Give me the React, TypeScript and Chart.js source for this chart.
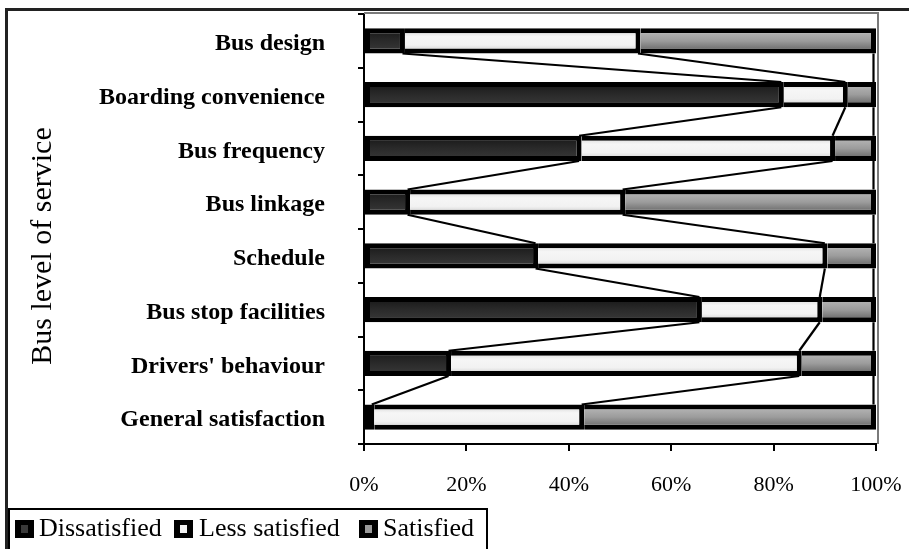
import React, { useEffect, useRef } from "react";
import { Chart, registerables } from "chart.js";

Chart.register(...registerables);

const categories = [
  "Bus design",
  "Boarding convenience",
  "Bus frequency",
  "Bus linkage",
  "Schedule",
  "Bus stop facilities",
  "Drivers' behaviour",
  "General satisfaction",
];
const dissatisfied = [8, 82, 42.5, 9, 34, 66, 17, 2];
const lessSatisfied = [46, 12.5, 49.5, 42, 56.5, 23.5, 68.5, 41];
const satisfied = [46, 5.5, 8, 49, 9.5, 10.5, 14.5, 57];
const seriesNames = ["Dissatisfied", "Less satisfied", "Satisfied"];
const yTitle = "Bus level of service";

const SERIF = '"Liberation Serif", "Times New Roman", serif';
const BAR_PCT = 0.47;

const darkStops = ["#161616", "#2a2a2a", "#3a3a3a"];
const lightStops = ["#cfcfcf", "#f6f6f6", "#f2f2f2", "#c6c6c6"];
const greyStops = ["#bdbdbd", "#9c9c9c", "#5a5a5a"];

function gradientFill(stops: string[]) {
  return (ctx: any) => {
    const chart = ctx.chart;
    const y = chart.scales && chart.scales.y;
    if (!y || !chart.chartArea || ctx.dataIndex === undefined) return stops[1];
    const c = y.getPixelForValue(ctx.dataIndex);
    const h = ((y.height / categories.length) * BAR_PCT) / 2;
    const g = chart.ctx.createLinearGradient(0, c - h, 0, c + h);
    stops.forEach((s, i) => g.addColorStop(i / (stops.length - 1), s));
    return g;
  };
}

const framePlugin = {
  id: "frame",
  beforeDraw(chart: any) {
    const ctx = chart.ctx;
    ctx.save();
    ctx.fillStyle = "#ffffff";
    ctx.fillRect(0, 0, chart.width, chart.height);
    ctx.fillStyle = "#222222";
    ctx.fillRect(5, 8, chart.width - 5, 3);
    ctx.fillRect(5, 8, 3, chart.height - 8);
    ctx.restore();
  },
  afterDraw(chart: any) {
    const ctx = chart.ctx;
    const a = chart.chartArea;
    ctx.save();
    ctx.strokeStyle = "#7a7a7a";
    ctx.lineWidth = 2;
    ctx.beginPath();
    ctx.moveTo(a.left, a.top - 1);
    ctx.lineTo(a.right + 2, a.top - 1);
    ctx.lineTo(a.right + 2, a.bottom);
    ctx.stroke();
    // rotated axis title
    ctx.fillStyle = "#000";
    ctx.font = `30px ${SERIF}`;
    ctx.textAlign = "center";
    ctx.textBaseline = "middle";
    ctx.translate(43, 246);
    ctx.rotate(-Math.PI / 2);
    ctx.fillText(yTitle, 0, 0);
    ctx.restore();
  },
};

const seriesLinesPlugin = {
  id: "seriesLines",
  afterDatasetsDraw(chart: any) {
    const ctx = chart.ctx;
    ctx.save();
    ctx.strokeStyle = "#000";
    ctx.lineWidth = 2.2;
    for (let d = 0; d < chart.data.datasets.length; d++) {
      const meta = chart.getDatasetMeta(d);
      for (let i = 0; i < meta.data.length - 1; i++) {
        const a = meta.data[i] as any;
        const b = meta.data[i + 1] as any;
        ctx.beginPath();
        ctx.moveTo(a.x - 2.5, a.y + a.height / 2);
        ctx.lineTo(b.x - 2.5, b.y - b.height / 2);
        ctx.stroke();
      }
    }
    ctx.restore();
  },
};

function LegendMarker({ inner, left }: { inner: string; left: number }) {
  return (
    <div
      style={{
        position: "absolute",
        left,
        top: 520,
        width: 19,
        height: 18,
        background: "#000",
      }}
    >
      <div
        style={{
          position: "absolute",
          left: 6,
          top: 5,
          width: 7,
          height: 8,
          background: inner,
        }}
      />
    </div>
  );
}

export default function App() {
  const ref = useRef<HTMLCanvasElement>(null);

  useEffect(() => {
    if (!ref.current) return;
    const chart = new Chart(ref.current, {
      type: "bar",
      data: {
        labels: categories,
        datasets: [
          {
            label: seriesNames[0],
            data: dissatisfied,
            backgroundColor: gradientFill(darkStops),
            borderColor: "#000",
            borderWidth: 5,
            borderSkipped: false,
          },
          {
            label: seriesNames[1],
            data: lessSatisfied,
            backgroundColor: gradientFill(lightStops),
            borderColor: "#000",
            borderWidth: 5,
            borderSkipped: "start",
          },
          {
            label: seriesNames[2],
            data: satisfied,
            backgroundColor: gradientFill(greyStops),
            borderColor: "#000",
            borderWidth: 5,
            borderSkipped: "start",
          },
        ] as any,
      },
      options: {
        indexAxis: "y",
        responsive: false,
        animation: false,
        devicePixelRatio: 1,
        layout: { padding: { left: 0, top: 14, right: 33, bottom: 0 } },
        datasets: {
          bar: { barPercentage: BAR_PCT, categoryPercentage: 1 },
        },
        plugins: {
          legend: { display: false },
          tooltip: { enabled: false },
          title: { display: false },
        },
        scales: {
          x: {
            stacked: true,
            min: 0,
            max: 100,
            grid: {
              drawOnChartArea: false,
              tickLength: 7,
              color: "#000",
              lineWidth: 2,
            },
            border: { color: "#000", width: 2 },
            ticks: {
              stepSize: 20,
              maxRotation: 0,
              padding: 21,
              color: "#000",
              font: { family: SERIF, size: 22 },
              callback: (v: any) => v + "%",
            },
            afterFit: (s: any) => {
              s.height = 105;
              s.paddingLeft = 0;
              s.paddingRight = 0;
            },
          },
          y: {
            stacked: true,
            offset: true,
            grid: {
              offset: true,
              drawOnChartArea: false,
              tickLength: 6,
              color: "#000",
              lineWidth: 2,
            },
            border: { color: "#000", width: 2 },
            ticks: {
              padding: 33,
              labelOffset: 3,
              color: "#000",
              font: { family: SERIF, size: 24, weight: "bold" },
            },
            afterFit: (s: any) => {
              s.width = 364;
              s.paddingTop = 0;
              s.paddingBottom = 0;
            },
          },
        },
      } as any,
      plugins: [framePlugin, seriesLinesPlugin],
    });
    return () => chart.destroy();
  }, []);

  const textStyle: React.CSSProperties = {
    position: "absolute",
    top: 515,
    fontFamily: SERIF,
    fontSize: 26,
    lineHeight: "26px",
    color: "#000",
    whiteSpace: "nowrap",
  };

  return (
    <div
      style={{
        position: "fixed",
        left: 0,
        top: 0,
        width: 909,
        height: 549,
        overflow: "hidden",
        background: "#fff",
      }}
    >
      <canvas ref={ref} width={909} height={549} style={{ display: "block" }} />
      <div
        style={{
          position: "absolute",
          left: 8,
          top: 508,
          width: 480,
          height: 60,
          border: "2px solid #000",
          boxSizing: "border-box",
        }}
      />
      <LegendMarker inner="#3a3a3a" left={15} />
      <span style={{ ...textStyle, left: 39 }}>{seriesNames[0]}</span>
      <LegendMarker inner="#f2f2f2" left={174} />
      <span style={{ ...textStyle, left: 199 }}>{seriesNames[1]}</span>
      <LegendMarker inner="#9a9a9a" left={359} />
      <span style={{ ...textStyle, left: 383 }}>{seriesNames[2]}</span>
    </div>
  );
}
